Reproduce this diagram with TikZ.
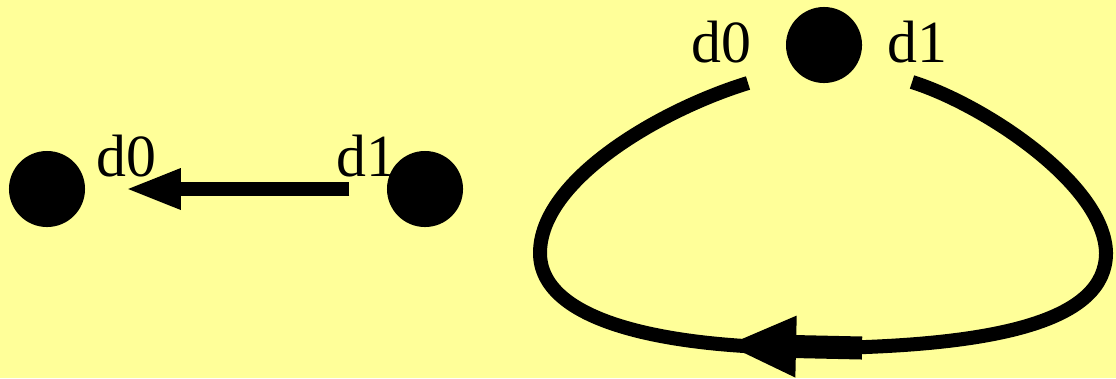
\documentclass[tikz,border=0pt]{standalone}
\usepackage{fontspec}
\setmainfont{Liberation Serif}
\usetikzlibrary{arrows.meta,calc}
\definecolor{paper}{HTML}{FFFF99}

\begin{document}
\begin{tikzpicture}[
  x=0.01cm, y=-0.01cm,
  dot/.style={circle, fill=black, inner sep=0pt, minimum size=7.6mm},
  lbl/.style={anchor=base, inner sep=0pt, font=\fontsize{17}{20}\selectfont},
  arr/.style={-{Triangle[length=5.6mm, width=3.7mm]}, line width=1.4mm},
  loopline/.style={line width=1.4mm},
  looparr/.style={-{Triangle[length=7.1mm, width=5.6mm]}, line width=2.3mm}
]
% Background
\fill[paper] (0,0) rectangle (1116,378);
\useasboundingbox (0,0) rectangle (1116,378);

% Left pair
\node[dot] (l0) at (47,189) {};
\node[dot] (l1) at (425,189) {};
\node[lbl] (l0txt) at (126,176) {d0};
\node[lbl] (l1txt) at (366,176) {d1};
\draw[arr, shorten <=3.7mm, shorten >=3.9mm] (l1) -- (l0);

% Self loop
\node[dot] (top) at (824,45) {};
\node[lbl] (t0txt) at (721,62) {d0};
\node[lbl] (t1txt) at (917,62) {d1};
\coordinate (t1) at ($(top)+(88,37)$);
\coordinate (t0) at ($(top)+(-76,38)$);
\coordinate (a1) at (862,348);
\coordinate (a0) at (725,345);
\draw[loopline] (t1) .. controls (985,105) and (1105,185) .. (1106,253)
  .. controls (1106,320) and (1000,345) .. (830,348)
  .. controls (660,350) and (540,320) .. (540,253)
  .. controls (540,180) and (660,110) .. (t0);
\draw[looparr] (a1) -- (a0);
\end{tikzpicture}
\end{document}
